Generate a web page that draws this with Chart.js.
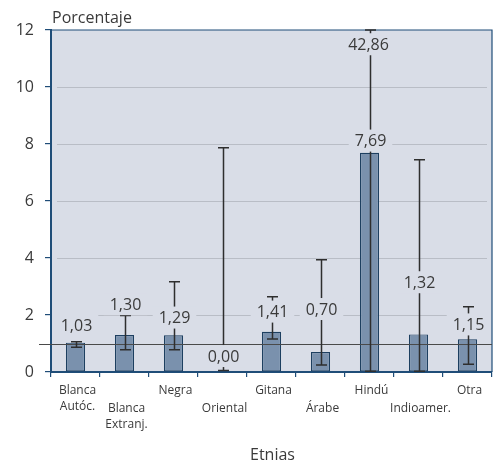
<!DOCTYPE html>
<html>
<head>
<meta charset="utf-8">
<script src="https://cdn.jsdelivr.net/npm/chart.js@4/dist/chart.umd.min.js"></script>
<style>
  html, body { margin: 0; padding: 0; background: #ffffff; }
  #wrap { width: 494px; height: 465px; }
</style>
</head>
<body>
<div id="wrap"><canvas id="grafico" width="494" height="465"></canvas></div>
<script>
// Datos por etnia
const etnias = [
  ['Blanca', 'Autóc.'], ['Blanca', 'Extranj.'], ['Negra'], ['Oriental'], ['Gitana'],
  ['Árabe'], ['Hindú'], ['Indioamer.'], ['Otra']
];
const porcentajes = [1.03, 1.30, 1.29, 0.00, 1.41, 0.70, 7.69, 1.32, 1.15];
const icInferior  = [0.87, 0.78, 0.78, 0.05, 1.16, 0.25, 0.03, 0.03, 0.27];
const icSuperior  = [1.06, 1.98, 3.17, 7.87, 2.64, 3.94, 42.86, 7.45, 2.29];
const ejeY = { min: 0, max: 12, paso: 2 };
const valorReferencia = 1;

// Disposición de las etiquetas de valor (en unidades del eje Y)
const posEtiqueta = [1.63, 2.38, 1.91, 0.56, 2.12, 2.21, 8.12, 3.15, 1.67];

const FUENTE = '"Open Sans", "Noto Sans", sans-serif';
const TEXTO = '#3a3a3a';
const FONDO = '#d9dde7';
const EJE = '#1f4d78';

const fmt = v => v.toFixed(2).replace('.', ',');

const decoracion = {
  id: 'decoracion',
  beforeDraw(chart) {
    const { ctx, chartArea: a, scales: { y } } = chart;
    ctx.save();
    ctx.fillStyle = FONDO;
    ctx.fillRect(a.left, a.top, a.right - a.left, a.bottom - a.top);
    // líneas de cuadrícula interiores
    ctx.strokeStyle = '#b9bdc6';
    ctx.lineWidth = 1;
    y.ticks.forEach(t => {
      if (t.value <= ejeY.min || t.value >= ejeY.max) return;
      const py = Math.round(y.getPixelForValue(t.value)) + 0.5;
      ctx.beginPath();
      ctx.moveTo(a.left + 6, py);
      ctx.lineTo(a.right - 5, py);
      ctx.stroke();
    });
    // marco superior y derecho
    ctx.strokeStyle = EJE;
    ctx.lineWidth = 1.2;
    ctx.beginPath();
    ctx.moveTo(a.left, a.top);
    ctx.lineTo(a.right, a.top);
    ctx.lineTo(a.right, a.bottom);
    ctx.stroke();
    ctx.restore();
  },
  afterDatasetsDraw(chart) {
    const { ctx, chartArea: a, scales: { x, y } } = chart;
    ctx.save();
    // línea de referencia
    const pr = Math.round(y.getPixelForValue(valorReferencia)) + 0.5;
    ctx.strokeStyle = '#4a4a4a';
    ctx.lineWidth = 1.2;
    ctx.beginPath();
    ctx.moveTo(a.left - 12, pr);
    ctx.lineTo(a.right, pr);
    ctx.stroke();

    // intervalos de confianza
    ctx.strokeStyle = '#2e2e2e';
    ctx.lineWidth = 1.5;
    const cap = 5.5;
    porcentajes.forEach((v, i) => {
      const px = Math.round(x.getPixelForValue(i)) + 0.5;
      const lo = y.getPixelForValue(Math.max(icInferior[i], ejeY.min));
      const hi = y.getPixelForValue(Math.min(icSuperior[i], ejeY.max));
      ctx.beginPath();
      ctx.moveTo(px, lo); ctx.lineTo(px, hi);
      ctx.moveTo(px - cap, lo); ctx.lineTo(px + cap, lo);
      ctx.moveTo(px - cap, hi); ctx.lineTo(px + cap, hi);
      ctx.stroke();
    });

    // etiquetas de valor con fondo
    ctx.font = '16px ' + FUENTE;
    ctx.textAlign = 'center';
    ctx.textBaseline = 'middle';
    const etiqueta = (txt, px, py) => {
      const w = ctx.measureText(txt).width;
      ctx.fillStyle = FONDO;
      ctx.fillRect(px - w / 2 - 6, py - 11, w + 12, 22);
      ctx.fillStyle = TEXTO;
      ctx.fillText(txt, px, py + 1);
    };
    porcentajes.forEach((v, i) => {
      const px = x.getPixelForValue(i) + 1;
      etiqueta(fmt(v), px, y.getPixelForValue(posEtiqueta[i]));
      if (icSuperior[i] > ejeY.max) {
        etiqueta(fmt(icSuperior[i]), px - 2, y.getPixelForValue(ejeY.max - 0.5));
      }
    });
    ctx.restore();
  },
  afterDraw(chart) {
    const { ctx, chartArea: a, scales: { x } } = chart;
    ctx.save();
    ctx.fillStyle = TEXTO;
    // etiquetas de categoría alternadas
    ctx.font = '12px ' + FUENTE;
    ctx.textAlign = 'center';
    ctx.textBaseline = 'middle';
    etnias.forEach((lineas, i) => {
      const px = x.getPixelForValue(i) + 2;
      const base = a.bottom + (i % 2 === 0 ? 19 : 37);
      lineas.forEach((l, k) => ctx.fillText(l, px, base + k * 15.5));
    });
    // títulos de los ejes
    ctx.font = '16px ' + FUENTE;
    ctx.fillText('Etnias', (a.left + a.right) / 2 + 1, 455);
    ctx.textAlign = 'left';
    ctx.textBaseline = 'alphabetic';
    ctx.fillText('Porcentaje', a.left + 1, a.top - 7);
    ctx.restore();
  }
};

new Chart(document.getElementById('grafico'), {
  type: 'bar',
  data: {
    labels: etnias.map(l => l.join(' ')),
    datasets: [{
      data: porcentajes,
      backgroundColor: '#7a91ad',
      borderColor: '#1d3f60',
      borderWidth: 1.2,
      borderSkipped: false,
      categoryPercentage: 1,
      barPercentage: 0.39
    }]
  },
  options: {
    responsive: false,
    animation: false,
    devicePixelRatio: 1,
    layout: { padding: { top: 30, right: 2, left: 0, bottom: 0 } },
    plugins: { legend: { display: false }, tooltip: { enabled: false } },
    scales: {
      x: {
        offset: true,
        grid: { offset: true, drawOnChartArea: false, drawTicks: true, tickLength: 5, color: EJE, lineWidth: 1.2 },
        border: { color: EJE, width: 2 },
        ticks: { display: false },
        afterFit(s) { s.height = 93; }
      },
      y: {
        min: ejeY.min,
        max: ejeY.max,
        grid: { drawOnChartArea: false, drawTicks: true, tickLength: 6, color: EJE, lineWidth: 1.2 },
        border: { color: EJE, width: 2 },
        ticks: {
          stepSize: ejeY.paso,
          padding: 11,
          color: TEXTO,
          font: { family: FUENTE, size: 16 }
        },
        afterFit(s) { s.width = 51; }
      }
    }
  },
  plugins: [decoracion]
});
</script>
</body>
</html>
